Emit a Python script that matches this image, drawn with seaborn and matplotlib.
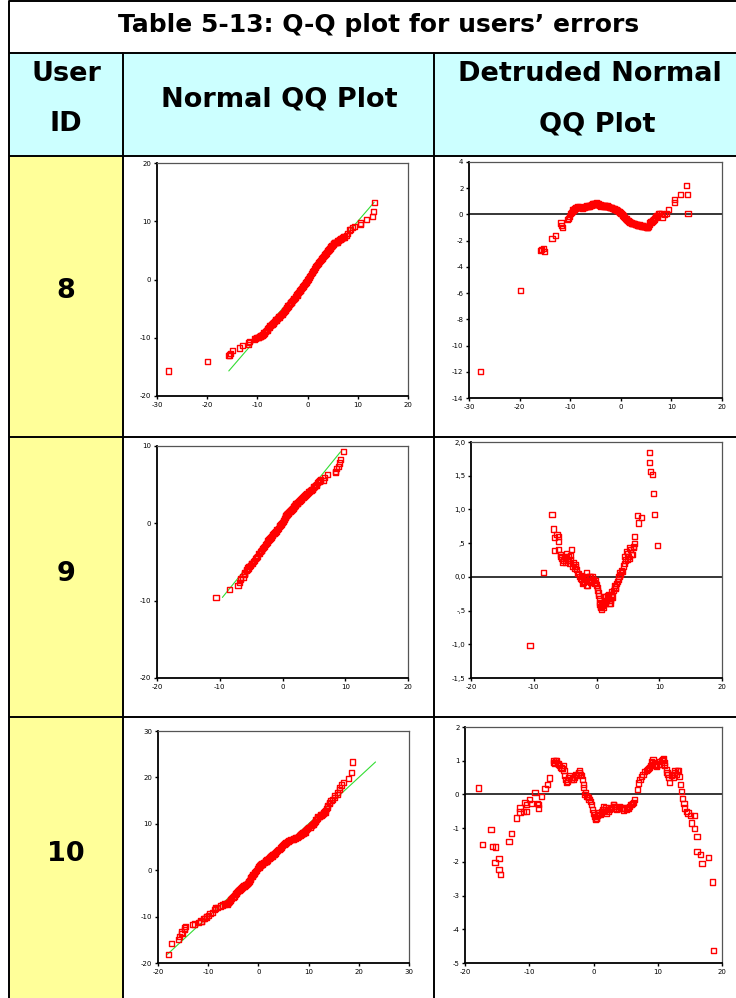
import numpy as np
import pandas as pd
import matplotlib
matplotlib.use("Agg")
import matplotlib.pyplot as plt
import seaborn as sns
from matplotlib.patches import Rectangle

# ---------------- data (observed value, detrended deviation = observed - expected) ----------------
user_ids = ["8", "9", "10"]

u8_obs = [-27.7, -19.9, -15.8, -15.6, -15.3, -15.0, -13.6, -12.9, -11.8, -11.7, -11.6, -10.6, -10.4, -10.1,
          -9.9, -9.6, -9.4, -9.2, -9.0, -8.7, -8.4, -8.1, -7.8, -7.5, -7.2, -6.9, -6.6, -6.3, -6.0, -5.7,
          -5.4, -5.1, -4.8, -4.5, -4.2, -3.9, -3.6, -3.3, -3.0, -2.7, -2.4, -2.1, -1.8, -1.5, -1.2, -0.9,
          -0.6, -0.3, 0.0, 0.3, 0.6, 0.9, 1.2, 1.5, 1.8, 2.1, 2.4, 2.7, 3.0, 3.3, 3.6, 3.9, 4.2, 4.5, 4.8,
          5.1, 5.3, 5.6, 5.9, 6.2, 6.5, 6.8, 7.1, 7.4, 7.7, 8.0, 8.3, 8.6, 9.0, 9.4, 10.6, 10.6, 11.8,
          13.0, 13.2, 13.3]
u8_dev = [-12.0, -5.8, -2.74, -2.65, -2.62, -2.8, -1.85, -1.6, -0.65, -0.85, -0.98, -0.4, -0.3, -0.15,
          0.05, 0.25, 0.4, 0.35, 0.45, 0.5, 0.55, 0.6, 0.5, 0.45, 0.55, 0.6, 0.6, 0.65, 0.7, 0.75,
          0.8, 0.85, 0.9, 0.8, 0.7, 0.65, 0.7, 0.65, 0.65, 0.6, 0.6, 0.55, 0.5, 0.45, 0.4, 0.35,
          0.3, 0.2, 0.1, 0.0, -0.15, -0.3, -0.4, -0.5, -0.6, -0.65, -0.7, -0.72, -0.75, -0.8, -0.82, -0.85,
          -0.85, -0.9, -0.95, -1.0, -1.02, -0.75, -0.55, -0.5, -0.4, -0.25, -0.1, 0.05, 0.1, 0.05, -0.2,
          0.0, 0.05, 0.35, 0.9, 1.15, 1.5, 2.2, 1.55, 0.05]
# further readings inside the dense band of user 8
u8_band_obs = [-9.75, -9.5, -9.3, -9.1, -8.85, -8.55, -8.25, -7.95, -7.65, -7.35, -7.05, -6.75, -6.45, -6.15,
               -5.85, -5.55, -5.25, -4.95, -4.65, -4.35, -4.05, -3.75, -3.45, -3.15, -2.85, -2.55, -2.25,
               -1.95, -1.65, -1.35, -1.05, -0.75, -0.45, -0.15, 0.15, 0.45, 0.75, 1.05, 1.35, 1.65, 1.95,
               2.25, 2.55, 2.85, 3.15, 3.45, 3.75, 4.05, 4.35, 4.65, 4.95, 5.2, 5.45, 5.75, 6.05, 6.35,
               6.65, 6.95, 7.25]
u8_band_dev = [0.15, 0.35, 0.3, 0.45, 0.55, 0.6, 0.5, 0.55, 0.55, 0.5, 0.6, 0.65, 0.6, 0.7,
               0.7, 0.8, 0.75, 0.85, 0.8, 0.75, 0.75, 0.7, 0.6, 0.7, 0.6, 0.65, 0.55,
               0.55, 0.45, 0.45, 0.35, 0.3, 0.25, 0.15, 0.05, -0.05, -0.25, -0.35, -0.45, -0.55, -0.6,
               -0.72, -0.68, -0.78, -0.75, -0.85, -0.8, -0.9, -0.88, -0.95, -0.92, -1.0, -0.9, -0.65, -0.6,
               -0.45, -0.35, -0.2, -0.05]

u9_obs = [-10.6, -8.45, -7.1, -6.9, -6.7, -6.3, -6.0, -6.0, -6.7, -6.0, -5.8, -5.5, -5.3, -5.0, -4.8,
          -4.5, -4.2, -3.94, -3.7, -3.4, -3.15, -2.9, -2.6, -2.3, -2.1, -1.8, -1.56, -1.56, -1.3, -1.03,
          -0.8, -0.5, -0.25, 0.03, 0.2, 0.29, 0.45, 0.56, 0.7, 0.83, 1.0, 1.15, 1.35, 1.5, 1.7, 1.88, 2.0,
          2.15, 2.3, 2.42, 2.7, 2.94, 3.2, 3.47, 3.74, 4.0, 4.26, 4.53, 4.8, 4.95, 5.1, 5.33, 5.6, 5.85,
          6.1, 6.1, 6.5, 6.75, 7.18, 8.4, 8.4, 8.66, 8.87, 9.03, 9.2, 9.72]
u9_dev = [-1.02, 0.06, 0.92, 0.71, 0.58, 0.63, 0.6, 0.53, 0.39, 0.41, 0.33, 0.28, 0.25, 0.21, 0.35,
          0.30, 0.25, 0.40, 0.21, 0.15, 0.11, 0.05, -0.02, -0.04, -0.08, 0.0, 0.06, -0.12, -0.05, 0.0,
          -0.05, -0.04, -0.1, -0.12, -0.2, -0.24, -0.32, -0.41, -0.46, -0.49, -0.42, -0.38, -0.36, -0.3,
          -0.28, -0.26, -0.35, -0.39, -0.3, -0.26, -0.2, -0.17, -0.1, -0.04, 0.06, 0.1, 0.16, 0.30, 0.38,
          0.26, 0.3, 0.43, 0.33, 0.43, 0.5, 0.6, 0.91, 0.80, 0.88, 1.84, 1.70, 1.56, 1.52, 1.24, 0.93, 0.47]
u9_band_obs = [-5.65, -5.4, -5.15, -4.9, -4.65, -4.35, -4.1, -3.8, -3.55, -3.3, -3.05, -2.75, -2.45, -2.2,
               -1.95, -1.7, -1.4, -1.15, -0.9, -0.65, -0.4, -0.1, 0.1, 0.35, 0.5, 0.65, 0.78, 0.9, 1.08,
               1.25, 1.42, 1.6, 1.8, 1.95, 2.08, 2.22, 2.36, 2.55, 2.82, 3.07, 3.33, 3.6, 3.87, 4.13, 4.4,
               4.66, 5.0, 5.2, 5.45, 5.7, 5.95]
u9_band_dev = [0.3, 0.22, 0.3, 0.28, 0.25, 0.2, 0.32, 0.15, 0.12, 0.18, 0.05, 0.0, 0.02, -0.1,
               -0.06, -0.02, -0.12, 0.0, -0.08, 0.0, -0.08, -0.05, -0.16, -0.28, -0.38, -0.44, -0.42, -0.4,
               -0.45, -0.3, -0.4, -0.35, -0.32, -0.3, -0.4, -0.35, -0.22, -0.3, -0.13, -0.15, -0.07, 0.0,
               0.03, 0.08, 0.2, 0.25, 0.35, 0.27, 0.4, 0.33, 0.45]

u10_obs = [-17.93, -17.3, -15.96, -15.75, -15.23, -15.34, -14.7, -14.7, -14.46, -13.16, -12.75, -11.97,
           -11.45, -11.45, -10.93, -10.67, -10.4, -10.4, -9.9, -9.64, -9.12, -8.7, -8.6, -8.5, -8.08,
           -7.56, -7.2, -6.79, -6.27, -6.0, -5.75, -5.5, -5.07, -4.7, -4.46, -4.2, -3.68, -3.16, -2.64,
           -2.12, -1.87, -1.6, -1.35, -1.06, -0.83, -0.3, 0.1, 0.31, 0.5, 0.73, 1.24, 1.5, 1.53, 2.0, 2.5,
           3.06, 3.1, 3.6, 4.35, 4.64, 5.1, 5.65, 5.94, 6.2, 6.4, 6.84, 7.05, 7.46, 7.98, 8.5, 9.0, 9.27,
           9.8, 10.3, 10.8, 10.87, 11.1, 11.6, 11.87, 12.4, 12.7, 13.26, 13.4, 13.6, 13.7, 13.8, 14.1,
           14.2, 14.46, 14.7, 15.1, 15.23, 15.75, 15.75, 16.1, 16.1, 16.6, 16.9, 17.93, 18.5, 18.7]
u10_dev = [0.19, -1.49, -1.03, -1.54, -1.56, -2.02, -1.89, -2.23, -2.38, -1.39, -1.15, -0.70,
           -0.4, -0.52, -0.5, -0.23, -0.31, -0.5, -0.16, -0.26, 0.06, -0.26, -0.31, -0.4, -0.06,
           0.17, 0.29, 0.49, 1.0, 0.93, 1.0, 0.9, 0.8, 0.85, 0.55, 0.35, 0.55, 0.45, 0.55,
           0.70, 0.55, 0.3, 0.0, -0.07, -0.1, -0.3, -0.6, -0.75, -0.7, -0.6, -0.5, -0.35, -0.46, -0.55, -0.45,
           -0.3, -0.31, -0.45, -0.4, -0.46, -0.45, -0.35, -0.31, -0.25, -0.15, 0.14, 0.34, 0.54, 0.68, 0.78,
           0.98, 1.03, 0.83, 0.98, 1.03, 1.05, 0.86, 0.6, 0.35, 0.5, 0.72, 0.72, 0.53, 0.29, 0.09, -0.11,
           -0.26, -0.4, -0.5, -0.55, -0.63, -0.85, -0.63, -1.0, -1.25, -1.69, -1.77, -2.06, -1.87, -2.6, -4.63]
u10_band_obs = [-6.15, -5.9, -5.6, -5.3, -4.9, -4.6, -4.35, -4.0, -3.85, -3.45, -3.3, -2.9, -2.8, -2.4,
                -2.25, -2.0, -1.75, -1.5, -1.2, -0.95, -0.7, -0.5, -0.15, 0.0, 0.2, 0.4, 0.6, 0.85, 1.0,
                1.35, 1.7, 1.85, 2.2, 2.35, 2.7, 2.85, 3.3, 3.45, 3.85, 4.1, 4.5, 4.85, 5.3, 5.45, 5.8,
                6.05, 7.25, 7.7, 8.2, 8.35, 8.7, 8.85, 9.15, 9.45, 9.6, 10.05, 10.5, 10.65, 11.0, 11.3,
                11.45, 11.75, 12.1, 12.25, 12.55, 12.9, 13.05]
u10_band_dev = [0.95, 1.0, 0.92, 0.85, 0.78, 0.7, 0.45, 0.4, 0.5, 0.45, 0.5, 0.5, 0.6, 0.6,
                0.65, 0.6, 0.45, 0.2, 0.05, -0.05, -0.15, -0.22, -0.45, -0.55, -0.65, -0.7, -0.62, -0.55,
                -0.6, -0.45, -0.5, -0.4, -0.45, -0.5, -0.38, -0.42, -0.35, -0.4, -0.4, -0.35, -0.42, -0.4,
                -0.38, -0.42, -0.3, -0.28, 0.45, 0.6, 0.7, 0.75, 0.8, 0.85, 0.95, 0.9, 0.85, 0.9,
                0.9, 1.0, 0.95, 0.75, 0.65, 0.5, 0.55, 0.6, 0.65, 0.6, 0.7]

# axis ranges / ticks per user
qq_xticks = [[-30, -20, -10, 0, 10, 20], [-20, -10, 0, 10, 20], [-20, -10, 0, 10, 20, 30]]
qq_yticks = [[-20, -10, 0, 10, 20], [-20, -10, 0, 10], [-20, -10, 0, 10, 20, 30]]
dt_xticks = [[-30, -20, -10, 0, 10, 20], [-20, -10, 0, 10, 20], [-20, -10, 0, 10, 20]]
dt_yticks = [[-14, -12, -10, -8, -6, -4, -2, 0, 2, 4],
             [-1.5, -1.0, -0.5, 0.0, 0.5, 1.0, 1.5, 2.0],
             [-5, -4, -3, -2, -1, 0, 1, 2]]
dt_ylabels = [None,
              ["-1,5", "-1,0", "-,5", "0,0", ",5", "1,0", "1,5", "2,0"],
              None]

title_text = "Table 5-13: Q-Q plot for users\u2019 errors"

# ---------------- figure ----------------
W, H = 736, 998
sns.set_theme(style="white")
plt.rcParams['font.family'] = ['DejaVu Sans']
fig = plt.figure(figsize=(W / 100, H / 100), dpi=100)

bg = fig.add_axes([0, 0, 1, 1])
bg.set_xlim(0, W)
bg.set_ylim(H, 0)
bg.axis("off")

X0, XC1, XC2, X3 = 9, 123, 434, 760
Y0, YT, YH, YR1, YR2, Y3 = 1, 53, 156, 437, 717, 1010

bg.add_patch(Rectangle((X0, YT), X3 - X0, YH - YT, fc="#CCFFFF", ec="none"))
bg.add_patch(Rectangle((X0, YH), XC1 - X0, Y3 - YH, fc="#FFFF99", ec="none"))

lw = 1.4
for y in [Y0, YT, YH, YR1, YR2]:
    bg.plot([X0, X3], [y, y], color="black", lw=lw, solid_capstyle="butt")
bg.plot([X0, X0], [Y0, Y3], color="black", lw=lw)
bg.plot([XC1, XC1], [YT, Y3], color="black", lw=lw)
bg.plot([XC2, XC2], [YT, Y3], color="black", lw=lw)

hdr = dict(ha="center", va="center", fontsize=19.5, fontweight="bold", color="black")
bg.text(379, 25, title_text, ha="center", va="center", fontsize=18, fontweight="bold", color="black")
bg.text(66, 74, "User", **hdr)
bg.text(66, 124, "ID", **hdr)
bg.text(279, 99, "Normal QQ Plot", **hdr)
bg.text(590, 74, "Detruded Normal", **hdr)
bg.text(597, 124, "QQ Plot", **hdr)
for lab, yc in zip(user_ids, [291, 574, 854]):
    bg.text(66, yc, lab, **hdr)


def px_axes(l, t, r, b):
    return fig.add_axes([l / W, 1 - b / H, (r - l) / W, (b - t) / H])


def style(ax, xt, yt, ylabels=None):
    ax.set_facecolor("white")
    ax.set_xlim(xt[0], xt[-1])
    ax.set_ylim(yt[0], yt[-1])
    ax.set_xticks(xt)
    ax.set_yticks(yt)
    ax.set_xticklabels([str(v) for v in xt])
    if ylabels is None:
        ax.set_yticklabels([str(v) for v in yt])
    else:
        ax.set_yticklabels(ylabels)
    ax.tick_params(axis="both", which="both", direction="out", length=2.5, width=1.0,
                   labelsize=5, colors="black", pad=1.5, bottom=True, left=True, top=False, right=False)
    for side in ["left", "bottom"]:
        ax.spines[side].set_visible(True)
        ax.spines[side].set_color("black")
        ax.spines[side].set_linewidth(1.3)
    for side in ["top", "right"]:
        ax.spines[side].set_visible(True)
        ax.spines[side].set_color("#555555")
        ax.spines[side].set_linewidth(0.9)
    ax.set_xlabel("")
    ax.set_ylabel("")
    ax.grid(False)


qq_boxes = [(157, 163, 408, 396), (157, 446, 408, 678), (158, 731, 409, 963)]
dt_boxes = [(469, 162, 722, 398), (471, 442, 722, 678), (465, 727, 722, 963)]
obs_all = [u8_obs + u8_band_obs, u9_obs + u9_band_obs, u10_obs + u10_band_obs]
dev_all = [u8_dev + u8_band_dev, u9_dev + u9_band_dev, u10_dev + u10_band_dev]

mk = dict(marker="s", s=14, facecolors="none", edgecolor="#FF0000", linewidth=1.0, zorder=2)

for i in range(3):
    df = pd.DataFrame({"obs": obs_all[i], "dev": dev_all[i]})
    df["exp"] = df["obs"] - df["dev"]

    ax = px_axes(*qq_boxes[i])
    lo, hi = df["exp"].min(), df["exp"].max()
    line_df = pd.DataFrame({"x": [lo, hi], "y": [lo, hi]})
    sns.lineplot(data=line_df, x="x", y="y", color="#33DD33", lw=0.8, ax=ax, zorder=1)
    sns.scatterplot(data=df, x="obs", y="exp", ax=ax, **mk)
    style(ax, qq_xticks[i], qq_yticks[i])

    ax2 = px_axes(*dt_boxes[i])
    ax2.axhline(0, color="black", lw=1.1, zorder=1)
    sns.scatterplot(data=df, x="obs", y="dev", ax=ax2, **mk)
    style(ax2, dt_xticks[i], dt_yticks[i], dt_ylabels[i])

fig.savefig("out.png", dpi=100)
